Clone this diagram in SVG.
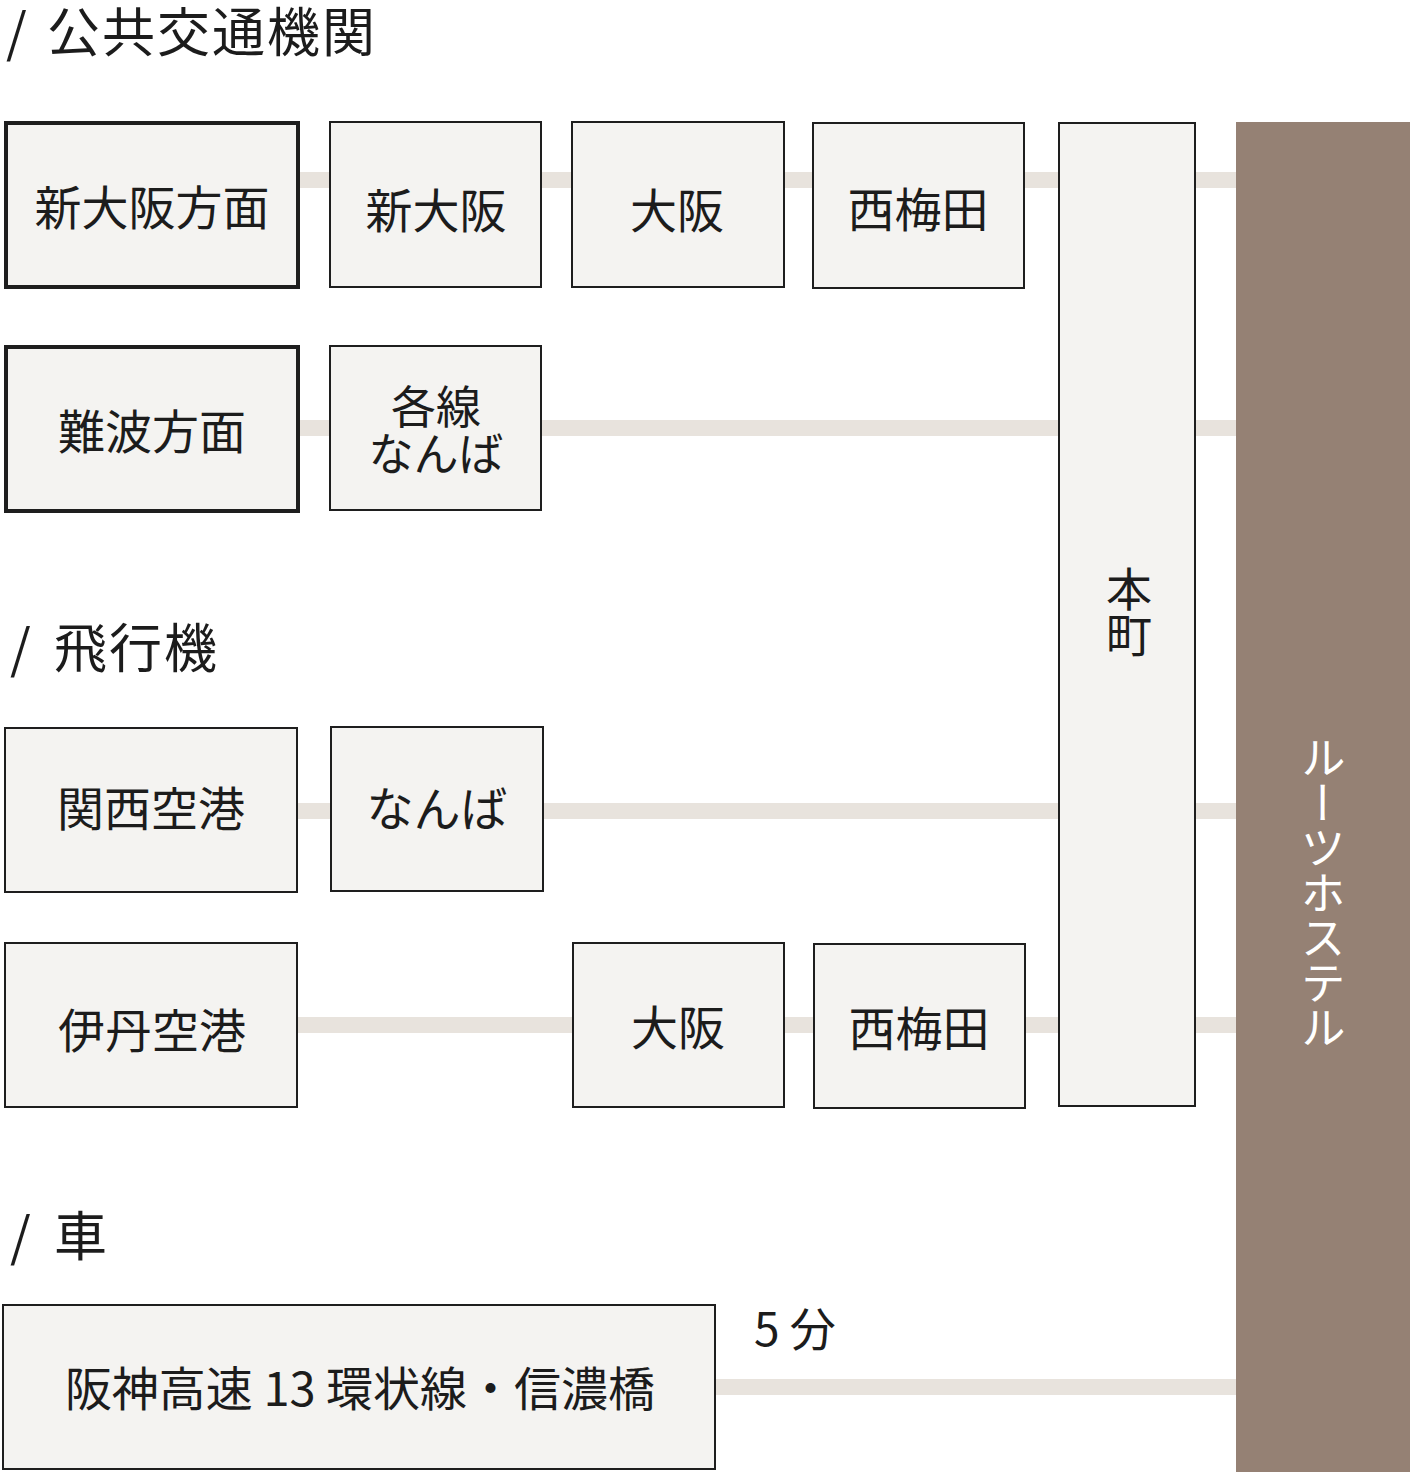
<svg xmlns="http://www.w3.org/2000/svg" width="1414" height="1472" viewBox="0 0 1414 1472">
<style>
text{font-family:"Noto Sans CJK JP","Noto Sans",sans-serif;fill:#1c1c1c}
.box{fill:#f4f3f1;stroke:#1e1e1e;stroke-width:2}
.thick{stroke-width:4}
.lbl{font-size:47px;text-anchor:middle;dominant-baseline:central}
.head{font-size:53px;dominant-baseline:central}
.con{stroke:#e8e3dd;stroke-width:16;fill:none}
.vert{writing-mode:vertical-rl;text-anchor:start}
</style>
<rect width="1414" height="1472" fill="#ffffff"/>
<g id="headings">
<text class="head" y="29"><tspan x="6">/</tspan><tspan x="47" letter-spacing="2">公共交通機関</tspan></text>
<text class="head" y="645"><tspan x="10">/</tspan><tspan x="54" letter-spacing="2">飛行機</tspan></text>
<text class="head" y="1233"><tspan x="10">/</tspan><tspan x="54">車</tspan></text>
</g>
<g id="connectors">
<line class="con" x1="298" y1="180" x2="1236" y2="180"/>
<line class="con" x1="298" y1="428" x2="1236" y2="428"/>
<line class="con" x1="297" y1="811" x2="1236" y2="811"/>
<line class="con" x1="297" y1="1025" x2="1236" y2="1025"/>
<line class="con" x1="715" y1="1387" x2="1236" y2="1387"/>
</g>
<g id="hostel">
<rect x="1236" y="122" width="174" height="1350" fill="#958174"/>
<text class="vert" x="1323" y="735" style="font-size:45px;fill:#ffffff">ルーツホステル</text>
</g>
<g id="honmachi">
<rect class="box" x="1059" y="123" width="136" height="983"/>
<text class="vert" x="1129" y="566" style="font-size:46px">本町</text>
</g>
<g id="shin-osaka-houmen">
<rect class="box thick" x="6" y="123" width="292" height="164"/>
<text class="lbl" x="152" y="204">新大阪方面</text>
</g>
<g id="shin-osaka">
<rect class="box" x="330" y="122" width="211" height="165"/>
<text class="lbl" x="436" y="207">新大阪</text>
</g>
<g id="osaka-1">
<rect class="box" x="572" y="122" width="212" height="165"/>
<text class="lbl" x="677" y="207">大阪</text>
</g>
<g id="nishi-umeda-1">
<rect class="box" x="813" y="123" width="211" height="165"/>
<text class="lbl" x="918" y="206">西梅田</text>
</g>
<g id="namba-houmen">
<rect class="box thick" x="6" y="347" width="292" height="164"/>
<text class="lbl" x="152" y="428">難波方面</text>
</g>
<g id="kakusen-namba">
<rect class="box" x="330" y="346" width="211" height="164"/>
<text class="lbl" x="436" y="404" style="font-size:45px">各線</text>
<text class="lbl" x="436" y="451" style="font-size:45px">なんば</text>
</g>
<g id="kansai-airport">
<rect class="box" x="5" y="728" width="292" height="164"/>
<text class="lbl" x="151" y="805">関西空港</text>
</g>
<g id="namba">
<rect class="box" x="331" y="727" width="212" height="164"/>
<text class="lbl" x="437" y="805">なんば</text>
</g>
<g id="itami-airport">
<rect class="box" x="5" y="943" width="292" height="164"/>
<text class="lbl" x="152" y="1027">伊丹空港</text>
</g>
<g id="osaka-2">
<rect class="box" x="573" y="943" width="211" height="164"/>
<text class="lbl" x="678" y="1024">大阪</text>
</g>
<g id="nishi-umeda-2">
<rect class="box" x="814" y="944" width="211" height="164"/>
<text class="lbl" x="919" y="1025">西梅田</text>
</g>
<g id="hanshin">
<rect class="box" x="3" y="1305" width="712" height="164"/>
<text class="lbl" x="360" y="1385">阪神高速 13 環状線・信濃橋</text>
<text x="754" y="1326" style="font-size:46px;dominant-baseline:central">5 分</text>
</g>
</svg>
